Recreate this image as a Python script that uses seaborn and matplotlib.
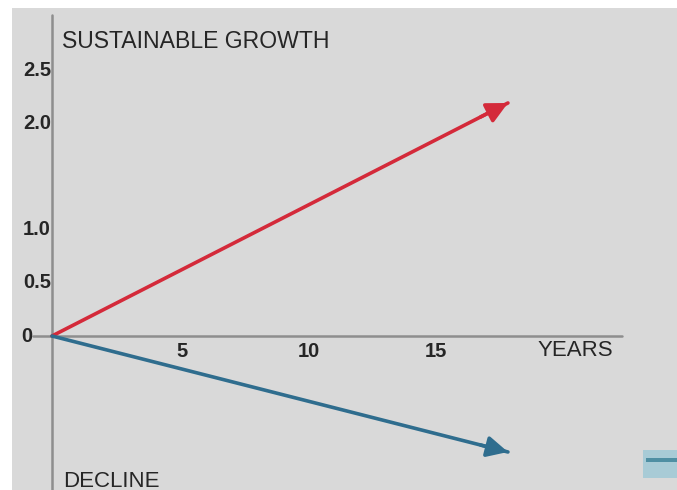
import matplotlib
matplotlib.use("Agg")
import matplotlib.pyplot as plt
import matplotlib.patches as mpatches
import seaborn as sns

# data
years = [0, 17.95]
growth = [0, 2.19]
decline = [0, -1.09]
ytick_values = [0, 0.5, 1.0, 2.0, 2.5]
ytick_labels = ["0", "0.5", "1.0", "2.0", "2.5"]
xtick_values = [5, 10, 15]
xtick_labels = ["5", "10", "15"]
top_label = "SUSTAINABLE GROWTH"
bottom_label = "DECLINE"
x_label = "YEARS"

BG = "#d9d9d9"
RED = "#d42a3a"
BLUE = "#2f6d8e"
AXIS = "#8e8e8e"
TXT = "#262626"

# pixel layout of the original (origin at 52,336)
W, H = 677, 490
PX_X, PX_Y = 25.4, 106.4
OX, OY = 52, 336
AX_L, AX_T = 12, 8


def px_to_data(px, py):
    return (px - OX) / PX_X, (OY - py) / PX_Y


sns.set_theme(style="white")
plt.rcParams["font.family"] = ["Liberation Sans", "DejaVu Sans"]

fig = plt.figure(figsize=(W / 100, H / 100), dpi=100, facecolor="white")
ax = fig.add_axes([AX_L / W, 0, (W - AX_L) / W, (H - AX_T) / H])
ax.set_facecolor(BG)
ax.set_xlim((AX_L - OX) / PX_X, (W - OX) / PX_X)
ax.set_ylim((OY - H) / PX_Y, (OY - AX_T) / PX_Y)
for s in ax.spines.values():
    s.set_visible(False)
ax.set_xticks([])
ax.set_yticks([])

# axes lines
x0, _ = px_to_data(33, 0)
x1, _ = px_to_data(622, 0)
ax.plot([x0, x1], [0, 0], color=AXIS, lw=1.8, zorder=1)
ax.axvline(0, ymin=0, ymax=(H - 15) / (H - AX_T), color=AXIS, lw=1.8, zorder=1)

# growth / decline arrows
for vals, color in [(growth, RED), (decline, BLUE)]:
    sns.lineplot(x=years, y=vals, color=color, lw=2.6, ax=ax, zorder=3)
    dx = years[-1] - years[-2]
    dy = vals[-1] - vals[-2]
    ax.annotate("", xy=(years[-1], vals[-1]),
                xytext=(years[-1] - 0.06 * dx, vals[-1] - 0.06 * dy),
                arrowprops=dict(arrowstyle="-|>,head_length=0.9,head_width=0.45",
                                color=color, lw=2.6, shrinkA=0, shrinkB=0,
                                mutation_scale=14),
                zorder=4)

# tick labels
for v, lab in zip(ytick_values, ytick_labels):
    xr, _ = px_to_data(32 if v == 0 else 51, 0)
    ax.text(xr, v, lab, ha="right", va="center", fontsize=14.5,
            fontweight="bold", color=TXT)
_, ylab = px_to_data(0, 351)
for v, lab in zip(xtick_values, xtick_labels):
    ax.text(v + 0.1, ylab, lab, ha="center", va="center", fontsize=14.5,
            fontweight="bold", color=TXT)

xt, yt = px_to_data(575, 350)
ax.text(xt, yt, x_label, ha="center", va="center", fontsize=16, color=TXT)
xt, yt = px_to_data(62, 42)
ax.text(xt, yt, top_label, ha="left", va="center", fontsize=16.6, color=TXT)
xt, yt = px_to_data(63, 481)
ax.text(xt, yt, bottom_label, ha="left", va="center", fontsize=16,
        color=TXT, clip_on=True)

# small cropped icon at the lower right edge
ix, iy = px_to_data(643, 478)
ax.add_patch(mpatches.Rectangle((ix, iy), 40 / PX_X, 28 / PX_Y,
                                facecolor="#a8cbd6", edgecolor="none", zorder=2))
ix2, iy2 = px_to_data(646, 462)
ax.add_patch(mpatches.Rectangle((ix2, iy2), 40 / PX_X, 4 / PX_Y,
                                facecolor="#4f8fa3", edgecolor="none", zorder=2))

fig.savefig("out.png", dpi=100, facecolor=fig.get_facecolor())
